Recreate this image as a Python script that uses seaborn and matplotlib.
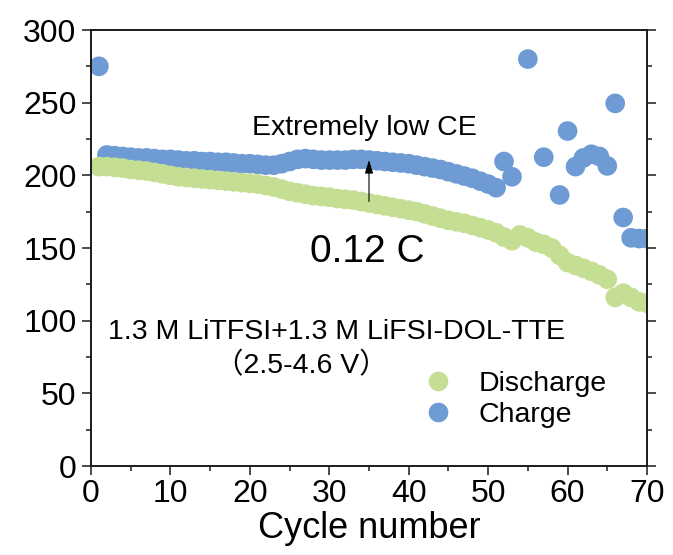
import numpy as np
import pandas as pd
import matplotlib
matplotlib.use("Agg")
import matplotlib.pyplot as plt
import seaborn as sns
from matplotlib.ticker import MultipleLocator

# ---------------- data ----------------
cycles = list(range(1, 71))

discharge = [
    206, 206, 205.5, 205, 204, 203.5, 203, 202, 201, 200,
    199, 198.5, 198, 197.5, 197, 196.5, 196, 195.5, 195, 194.5,
    194, 193, 192, 190.5, 189, 188, 187, 186, 185.5, 185,
    184, 183.5, 183, 182, 181, 180, 179, 178, 177, 176,
    175, 173.5, 172, 170.5, 169, 168, 167, 165.5, 164, 162.5,
    160.5, 157.5, 155, 159, 157, 154, 152.5, 150, 145, 140,
    138, 136, 134, 131.5, 128.5, 116, 119, 116, 113, 112,
]

charge = [
    275, 214, 213.5, 213, 212.5, 212, 212, 211.5, 211, 211,
    210.5, 210, 210, 209.5, 209.5, 209, 209, 208.5, 208, 208,
    207.5, 207, 207, 208, 209.5, 211, 211.5, 211, 210.5, 210.5,
    210.5, 210.5, 211, 211, 210.5, 210, 209.5, 209, 208.5, 208,
    207, 206, 205, 204, 202.5, 201, 199.5, 198, 196, 194,
    191.5, 209.5, 199, np.nan, 280, np.nan, 212.5, np.nan, 186.5, 230.5,
    206, 212, 214.5, 213, 206.5, 249.5, 171, 157, 156.5, 156.5,
]

series_names = ["Discharge", "Charge"]
series_colors = ["#C4DF93", "#6F9BD5"]
x_ticks = [0, 10, 20, 30, 40, 50, 60, 70]
y_ticks = [0, 50, 100, 150, 200, 250, 300]

df = pd.concat([
    pd.DataFrame({"Cycle": cycles, "Capacity": charge, "Type": "Charge"}),
    pd.DataFrame({"Cycle": cycles, "Capacity": discharge, "Type": "Discharge"}),
]).dropna()

# ---------------- style ----------------
sns.set_theme(style="ticks")
plt.rcParams["font.family"] = ["Liberation Sans", "Noto Sans CJK SC"]
plt.rcParams["axes.unicode_minus"] = False
plt.rcParams["text.color"] = "black"
plt.rcParams["axes.labelcolor"] = "black"
plt.rcParams["xtick.color"] = "black"
plt.rcParams["ytick.color"] = "black"

fig = plt.figure(figsize=(6.73, 5.55), dpi=100)
ax = fig.add_axes([91 / 673, 1 - 466 / 555, (647 - 91) / 673, (466 - 30) / 555])

sns.scatterplot(
    data=df, x="Cycle", y="Capacity", hue="Type",
    hue_order=series_names, palette=series_colors,
    s=200, linewidth=0, alpha=1, ax=ax, legend=True, clip_on=True,
)

ax.set_xlim(0, 70)
ax.set_ylim(0, 300)
ax.set_xticks(x_ticks)
ax.set_yticks(y_ticks)
ax.xaxis.set_minor_locator(MultipleLocator(5))
ax.yaxis.set_minor_locator(MultipleLocator(25))
ax.set_xlabel("Cycle number", fontsize=26, labelpad=1, color="black")
ax.set_ylabel("")

for sp in ax.spines.values():
    sp.set_visible(True)
    sp.set_linewidth(1.4)
    sp.set_color("#1a1a1a")

ax.tick_params(axis="both", which="major", direction="out", length=6.5, width=1.1,
               labelsize=23, color="#1a1a1a", labelcolor="black")
ax.tick_params(axis="both", which="minor", direction="out", length=3.5, width=1.1,
               color="#1a1a1a")
ax.tick_params(axis="y", which="both", left=True, right=True)
ax.tick_params(axis="x", which="both", bottom=True, top=False)
ax.tick_params(axis="x", which="major", pad=3)
ax.tick_params(axis="y", which="major", pad=4)

# annotations
ax.text(34.4, 228, "Extremely low CE", fontsize=20.5, ha="center", va="baseline",
        color="black")
ax.annotate("", xy=(35, 210.5), xytext=(35, 182),
            arrowprops=dict(arrowstyle="-|>,head_length=0.8,head_width=0.25",
                            color="black", lw=0.8, mutation_scale=10,
                            shrinkA=0, shrinkB=0))
ax.text(34.8, 140.4, "0.12 C", fontsize=28, ha="center", va="baseline", color="black")
ax.text(30.9, 87.4, "1.3 M LiTFSI+1.3 M LiFSI-DOL-TTE", fontsize=20.5,
        ha="center", va="baseline", color="black")
ax.text(26.5, 63.8, "（2.5-4.6 V）", fontsize=20.5, ha="center", va="baseline",
        color="black")

leg = ax.legend(title=None, loc="upper left", bbox_to_anchor=(0.553, 0.245),
                frameon=False, fontsize=20.5, handletextpad=0.4,
                labelspacing=0.2, borderaxespad=0, markerscale=1.0)
for t in leg.get_texts():
    t.set_color("black")

fig.savefig("out.png", dpi=100)
